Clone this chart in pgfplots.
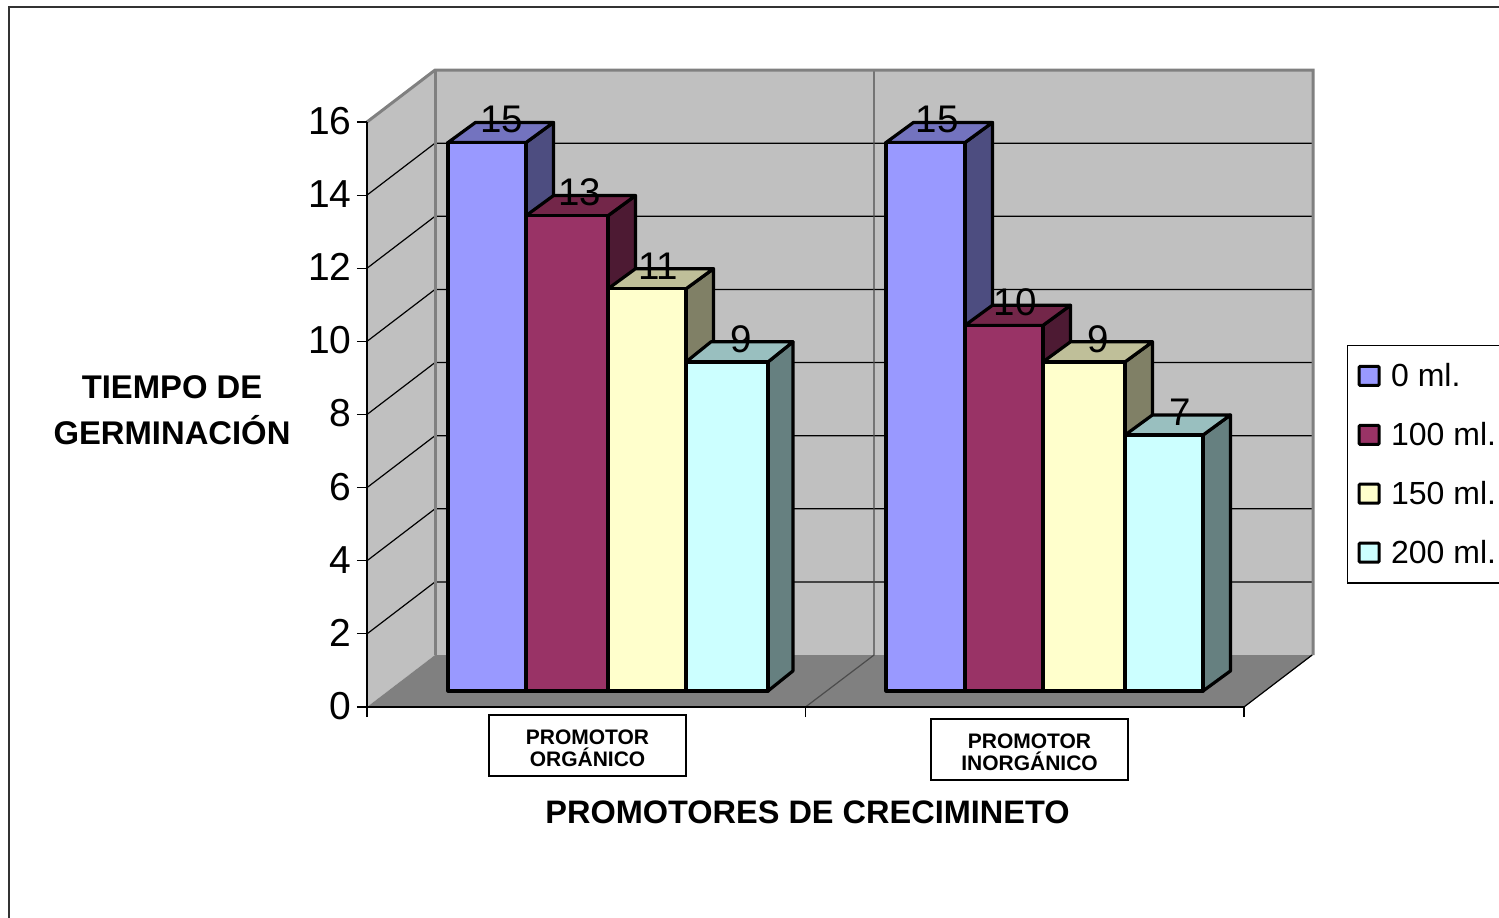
\documentclass[border=0pt]{standalone}
\usepackage{fontspec}
\setmainfont{Liberation Sans}
\usepackage{pgfplots}
\pgfplotsset{compat=1.18}

\definecolor{wallgray}{HTML}{C0C0C0}
\definecolor{floorgray}{HTML}{808080}
\definecolor{frontA}{HTML}{9999FF}\definecolor{topA}{HTML}{7373BF}\definecolor{sideA}{HTML}{4D4D80}
\definecolor{frontB}{HTML}{993366}\definecolor{topB}{HTML}{732649}\definecolor{sideB}{HTML}{4D1A33}
\definecolor{frontC}{HTML}{FFFFCC}\definecolor{topC}{HTML}{BFBF99}\definecolor{sideC}{HTML}{808066}
\definecolor{frontD}{HTML}{CCFFFF}\definecolor{topD}{HTML}{99BFBF}\definecolor{sideD}{HTML}{668080}

% One solid column: left edge, right edge, value, colour letter, depth across.
% Column depth is 0.55 value units up; the base sits 16pt above the axis.
\newcommand{\column}[5]{%
  \pgfmathsetmacro{\xback}{#2+#5}%
  \pgfmathsetmacro{\xbackl}{#1+#5}%
  \pgfmathsetmacro{\vback}{#3+0.55}%
  \addplot[forget plot,fill=side#4,draw=black,line width=3.2pt,line join=round,yshift=16pt]
    coordinates {(#2,0) (#2,#3) (\xback,\vback) (\xback,0.55)} -- cycle;
  \addplot[forget plot,fill=top#4,draw=black,line width=3.2pt,line join=round,yshift=16pt]
    coordinates {(#1,#3) (#2,#3) (\xback,\vback) (\xbackl,\vback)} -- cycle;
  \addplot[forget plot,fill=front#4,draw=black,line width=3.2pt,line join=round,yshift=16pt]
    coordinates {(#1,0) (#1,#3) (#2,#3) (#2,0)} -- cycle;
}

\begin{document}
\begin{tikzpicture}[x=1pt,y=1pt]
\useasboundingbox (0,0) rectangle (1499,918);
% outer chart frame, running off the page on two sides
\draw[line width=2pt,black!80] (9,-10) -- (9,911) -- (1510,911);

\begin{axis}[
  at={(367pt,211pt)}, anchor=south west,
  scale only axis, width=877pt, height=585pt,
  xmin=367, xmax=1244, ymin=0, ymax=16,
  clip=false, axis on top,
  axis x line=bottom, axis y line=left,
  axis line style={-,line width=1.2pt,black},
  xtick={367,805.5,1244}, xticklabels={},
  ytick={0,2,...,16},
  tick align=outside, major tick length=10pt,
  tick style={line width=1.2pt,black},
  /pgf/number format/assume math mode=true,
  yticklabel style={font=\fontsize{39}{39}\selectfont,xshift=-2pt,yshift=1pt},
  xlabel={PROMOTORES DE CRECIMINETO},
  xlabel style={at={(axis cs:807.5,-2.87)},anchor=center,
    font=\fontsize{32.5}{32.5}\selectfont\bfseries},
  ylabel={TIEMPO DE\\GERMINACIÓN},
  ylabel style={at={(axis cs:172,8.12)},anchor=center,rotate=-90,align=center,
    font=\fontsize{32.8}{46}\selectfont\bfseries},
  legend style={at={(axis cs:1347,9.90)},anchor=north west,draw=black,line width=1.2pt,
    font=\fontsize{32}{32}\selectfont,legend cell align=left,
    inner xsep=10pt,inner ysep=16pt,row sep=30.2pt,
    /tikz/every even column/.style={column sep=0pt}},
  legend image code/.code={
    \path[draw=none,fill=none] (0pt,0pt) -- (30pt,0pt);
    \draw[#1,line width=3pt,rounded corners=1pt] (0pt,-9.5pt) rectangle (20pt,9.5pt);
  },
]
% side wall, back wall and floor
\addplot[forget plot,fill=wallgray,draw=none] coordinates {(367,0) (435,1.42) (435,17.42) (367,16)} -- cycle;
\addplot[forget plot,fill=wallgray,draw=none] coordinates {(435,1.42) (1313,1.42) (1313,17.42) (435,17.42)} -- cycle;
\addplot[forget plot,fill=floorgray,draw=none] coordinates {(367,0) (1244,0) (1313,1.42) (435,1.42)} -- cycle;

% gridlines across both walls
\addplot[forget plot,black,line width=1.2pt] coordinates {(367,2) (435,3.42) (1313,3.42)};
\addplot[forget plot,black,line width=1.2pt] coordinates {(367,4) (435,5.42) (1313,5.42)};
\addplot[forget plot,black,line width=1.2pt] coordinates {(367,6) (435,7.42) (1313,7.42)};
\addplot[forget plot,black,line width=1.2pt] coordinates {(367,8) (435,9.42) (1313,9.42)};
\addplot[forget plot,black,line width=1.2pt] coordinates {(367,10) (435,11.42) (1313,11.42)};
\addplot[forget plot,black,line width=1.2pt] coordinates {(367,12) (435,13.42) (1313,13.42)};
\addplot[forget plot,black,line width=1.2pt] coordinates {(367,14) (435,15.42) (1313,15.42)};

% divider between the two groups
\addplot[forget plot,black!70,line width=1.2pt] coordinates {(805.5,0) (874,1.42) (874,17.42)};

% wall outlines and outer floor edge
\addplot[forget plot,floorgray,line width=3pt] coordinates {(367,16) (435,17.42) (1313,17.42) (1313,1.42)};
\addplot[forget plot,floorgray,line width=3pt] coordinates {(435,1.42) (435,17.42)};
\addplot[forget plot,black,line width=1.2pt] coordinates {(1244,0) (1312,1.42)};

% columns, left to right
\column{448}{526}{15}{A}{27.5}
\column{526}{608}{13}{B}{27.5}
\column{608}{686}{11}{C}{27.5}
\column{686}{768}{9}{D}{25}
\column{886}{965}{15}{A}{27.5}
\column{965}{1043}{10}{B}{27.5}
\column{1043}{1125}{9}{C}{27.5}
\column{1125}{1203}{7}{D}{27.5}

% value labels
\addplot[forget plot,draw=none,mark=none,point meta=explicit symbolic,
  nodes near coords,
  every node near coord/.style={anchor=center,yshift=39pt,inner sep=0pt,text=black,
    font=\fontsize{38.5}{38.5}\selectfont}]
  table[meta=label] {
  x y label
  502 15 15
  580 13 13
  658 11 11
  741 9 9
  937 15 15
  1015 10 10
  1098 9 9
  1180 7 7
};

\addlegendimage{fill=frontA,draw=black}\addlegendentry{0 ml.}
\addlegendimage{fill=frontB,draw=black}\addlegendentry{100 ml.}
\addlegendimage{fill=frontC,draw=black}\addlegendentry{150 ml.}
\addlegendimage{fill=frontD,draw=black}\addlegendentry{200 ml.}
\end{axis}

% category boxes under each group
\node[draw=black,line width=2pt,fill=white,minimum width=197pt,minimum height=61pt] at (587.5,172.5) {};
\node[align=center,inner sep=0pt,font=\fontsize{21}{22.5}\selectfont\bfseries] at (587.5,169.5) {PROMOTOR\\ORGÁNICO};
\node[draw=black,line width=2pt,fill=white,minimum width=197pt,minimum height=61pt] at (1029.5,168.5) {};
\node[align=center,inner sep=0pt,font=\fontsize{21}{22.5}\selectfont\bfseries] at (1029.5,165.5) {PROMOTOR\\INORGÁNICO};
\end{tikzpicture}
\end{document}
